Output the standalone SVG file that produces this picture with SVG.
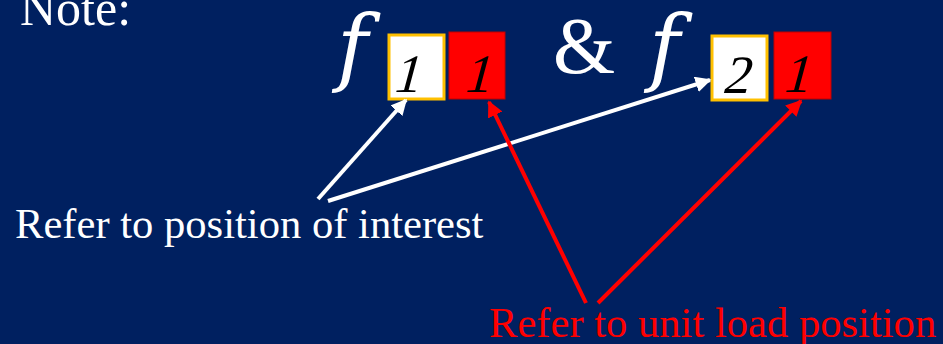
<svg xmlns="http://www.w3.org/2000/svg" width="943" height="344" viewBox="0 0 943 344">
<defs>
<style>
.t{font-family:"Liberation Serif","Times New Roman",serif;}
.w{fill:#FFFFFF;}
.big{font-family:"DejaVu Serif",serif;font-size:84px;font-style:italic;fill:#FFFFFF;}
.dig{font-size:54px;fill:#000000;text-anchor:middle;}
.lbl{font-size:42.6px;}
.wb{fill:#FFFFFF;stroke:#FFC000;stroke-width:3;}
.rb{fill:#FF0000;stroke:#C00000;stroke-width:1;}
.wl{stroke:#FFFFFF;stroke-width:4;fill:none;}
.rl{stroke:#FF0000;stroke-width:4;fill:none;}
</style>
<marker id="aw" viewBox="0 0 10 10" refX="9" refY="5" markerWidth="4" markerHeight="4" markerUnits="strokeWidth" orient="auto">
<path d="M0,0 L10,5 L0,10 z" fill="#FFFFFF"/>
</marker>
<marker id="ar" viewBox="0 0 10 10" refX="9" refY="5" markerWidth="4" markerHeight="4" markerUnits="strokeWidth" orient="auto">
<path d="M0,0 L10,5 L0,10 z" fill="#FF0000"/>
</marker>
</defs>
<rect x="0" y="0" width="943" height="344" fill="#002060"/>
<text class="t w" x="20" y="25" font-size="50">Note:</text>
<g id="f1">
<text class="big" x="337" y="75">f</text>
<rect class="wb" x="389" y="35" width="55" height="64"/>
<g transform="translate(405,92) skewX(-15)"><text class="t dig" x="0" y="0">1</text></g>
<rect class="rb" x="449" y="32" width="56" height="67"/>
<g transform="translate(476,92) skewX(-15)"><text class="t dig" x="0" y="0">1</text></g>
</g>
<text id="amp" class="t w" x="553" y="73" font-size="80">&amp;</text>
<g id="f2">
<text class="big" x="649" y="75">f</text>
<rect class="wb" x="712" y="36" width="55" height="64"/>
<g transform="translate(735,93) skewX(-15)"><text class="t dig" x="0" y="0">2</text></g>
<rect class="rb" x="774" y="32" width="57" height="67"/>
<g transform="translate(795,92) skewX(-15)"><text class="t dig" x="0" y="0">1</text></g>
</g>
<g id="interest">
<text class="t w lbl" x="15" y="238">Refer to position of interest</text>
</g>
<g id="unitload">
<text class="t lbl" x="489" y="337" fill="#FF0000">Refer to unit load position</text>
</g>
<g id="connectors">
<line class="wl" x1="318" y1="199" x2="406" y2="100" marker-end="url(#aw)"/>
<line class="wl" x1="328" y1="201" x2="710" y2="80" marker-end="url(#aw)"/>
<line class="rl" x1="586" y1="303" x2="489" y2="102" marker-end="url(#ar)"/>
<line class="rl" x1="598" y1="303" x2="801" y2="101" marker-end="url(#ar)"/>
</g>
</svg>
